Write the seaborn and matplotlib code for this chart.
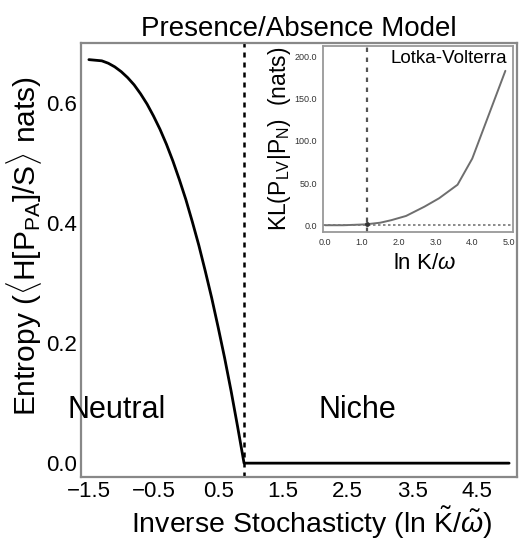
import matplotlib
matplotlib.use("Agg")
import matplotlib.pyplot as plt
import seaborn as sns
import pandas as pd

# Main panel: entropy vs inverse stochasticity
main_x = [-1.5, -1.4, -1.3, -1.2, -1.1, -1.0, -0.9, -0.8, -0.7, -0.6, -0.5, -0.4, -0.3, -0.2,
          -0.1, 0.0, 0.1, 0.2, 0.3, 0.4, 0.5, 0.6, 0.7, 0.8, 0.9, 5.0]
main_y = [0.672, 0.671, 0.670, 0.666, 0.660, 0.652, 0.642, 0.630, 0.615, 0.598, 0.578, 0.556,
          0.531, 0.503, 0.472, 0.439, 0.402, 0.363, 0.320, 0.275, 0.226, 0.175, 0.120, 0.061,
          0.0, 0.0]
main_xticks = [-1.5, -0.5, 0.5, 1.5, 2.5, 3.5, 4.5]
main_yticks = [0.0, 0.2, 0.4, 0.6]
transition_main = 0.9

# Inset: KL divergence (Lotka-Volterra)
inset_x = [0.0, 0.5, 1.1, 1.5, 1.8, 2.2, 2.7, 3.1, 3.6, 4.0, 4.9]
inset_y = [0.0, 0.0, 1.0, 3.0, 6.0, 11.0, 22.0, 32.0, 48.0, 79.0, 183.0]
inset_xticks = [0.0, 1.0, 2.0, 3.0, 4.0, 5.0]
inset_yticks = [0.0, 50.0, 100.0, 150.0, 200.0]
transition_inset = 1.13

sns.set_style("white")
plt.rcParams["font.family"] = ["Liberation Sans", "DejaVu Sans"]
plt.rcParams["mathtext.fontset"] = "custom"
plt.rcParams["mathtext.rm"] = "Liberation Sans"
plt.rcParams["mathtext.it"] = "Liberation Sans:italic"
plt.rcParams["mathtext.bf"] = "Liberation Sans:bold"
plt.rcParams["text.color"] = "black"
plt.rcParams["axes.labelcolor"] = "black"

fig = plt.figure(figsize=(5.2, 5.42), dpi=100)
ax = fig.add_axes([0.156, 0.120, 0.838, 0.801])

df_main = pd.DataFrame({"x": main_x, "y": main_y})
sns.lineplot(data=df_main, x="x", y="y", ax=ax, color="black", linewidth=2.0)
ax.axvline(transition_main, color="black", linestyle=(0, (2, 2)), linewidth=1.8)

ax.set_xlim(-1.62, 5.12)
ax.set_ylim(-0.023, 0.70)
ax.set_xticks(main_xticks)
ax.set_xticklabels(["\u22121.5", "\u22120.5", "0.5", "1.5", "2.5", "3.5", "4.5"])
ax.set_yticks(main_yticks)
ax.set_yticklabels(["0.0", "0.2", "0.4", "0.6"])
ax.tick_params(direction="in", length=6, width=1.2, labelsize=16, colors="#444444",
               labelcolor="black", pad=3)
for s in ax.spines.values():
    s.set_color("#888888")
    s.set_linewidth(1.6)

ax.set_xlabel(r"Inverse Stochasticty (ln $\tilde{\mathrm{K}}/\tilde{\omega}$)", fontsize=20.5)
ax.xaxis.set_label_coords(0.53, -0.064)
ax.set_ylabel(r"Entropy ($\langle$H[P$_{\mathrm{PA}}$]/S$\rangle$ nats)", fontsize=21.5)
ax.yaxis.set_label_coords(-0.086, 0.532)
ax.set_title("Presence/Absence Model", fontsize=20, pad=5)

ax.text(-1.07, 0.088, "Neutral", fontsize=22, ha="center", va="center")
ax.text(2.65, 0.088, "Niche", fontsize=22, ha="center", va="center")

# Inset
ins = fig.add_axes([0.621, 0.572, 0.365, 0.344])
df_ins = pd.DataFrame({"x": inset_x, "y": inset_y})
sns.lineplot(data=df_ins, x="x", y="y", ax=ins, color="#6e6e6e", linewidth=1.4)
ins.axvline(transition_inset, color="#555555", linestyle=(0, (2, 2.5)), linewidth=1.6)
ins.axhline(0.0, color="#777777", linestyle=(0, (1.5, 1.5)), linewidth=1.2)
ins.plot([transition_inset], [1.0], marker="o", color="#333333", markersize=2.5)
ins.set_xlim(-0.06, 5.1)
ins.set_ylim(-8, 213)
ins.set_xticks(inset_xticks)
ins.set_xticklabels([f"{v:.1f}" for v in inset_xticks])
ins.set_yticks(inset_yticks)
ins.set_yticklabels([f"{v:.1f}" for v in inset_yticks])
ins.tick_params(direction="out", length=3, width=0.8, labelsize=6.5, colors="#777777",
                labelcolor="#333333", pad=1.5)
for s in ins.spines.values():
    s.set_color("#999999")
    s.set_linewidth(1.3)
ins.set_xlabel(r"ln K/$\omega$", fontsize=16)
ins.xaxis.set_label_coords(0.537, -0.115)
ins.set_ylabel(r"KL(P$_{\mathrm{LV}}$|P$_{\mathrm{N}}$)  (nats)", fontsize=16.5, labelpad=1)
ins.text(0.97, 0.975, "Lotka-Volterra", transform=ins.transAxes, ha="right", va="top", fontsize=13.5)

fig.savefig("out.png", dpi=100)
